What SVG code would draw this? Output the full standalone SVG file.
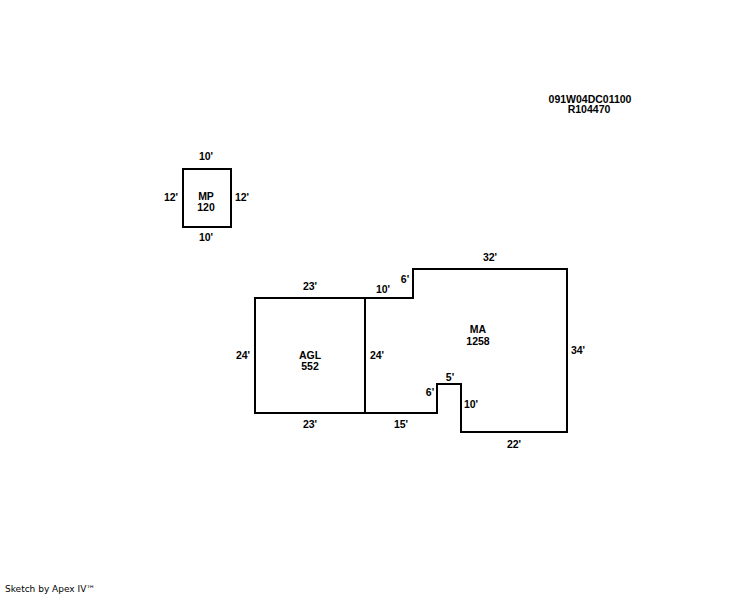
<svg xmlns="http://www.w3.org/2000/svg" width="744" height="595" viewBox="0 0 744 595">
<style>
text{font-family:"Liberation Sans",Arial,sans-serif;font-size:10.5px;font-weight:bold;fill:#000;text-anchor:middle}
.s{fill:none;stroke:#000;stroke-width:2;stroke-linejoin:miter;stroke-linecap:square}
.c{font-weight:normal;font-size:9px;text-anchor:start;font-family:"DejaVu Sans",sans-serif}
</style>
<rect width="744" height="595" fill="#fff"/>
<g id="header"><text x="590" y="102.500">091W04DC01100</text><text x="589" y="113">R104470</text></g>
<g id="MP">
<rect class="s" x="183" y="169" width="48" height="58"/>
<text x="206" y="200">MP</text><text x="206" y="211">120</text>
<text x="206" y="160">10'</text><text x="206" y="241">10'</text><text x="171" y="201">12'</text><text x="242" y="201">12'</text>
</g>
<g id="AGL">
<rect class="s" x="255" y="298" width="110" height="115"/>
<text x="310" y="359">AGL</text><text x="310" y="370">552</text>
<text x="310" y="290">23'</text><text x="310" y="428">23'</text><text x="243" y="359">24'</text>
</g>
<g id="MA">
<path class="s" d="M365 298H413V269H567V432H461V384H437V413H365Z"/>
<text x="478" y="333">MA</text><text x="478" y="345">1258</text>
<text x="377" y="359">24'</text><text x="383" y="293">10'</text><text x="405" y="283">6'</text><text x="490" y="261">32'</text><text x="578" y="354">34'</text><text x="514" y="448">22'</text><text x="471" y="408">10'</text><text x="450" y="381">5'</text><text x="430" y="396">6'</text><text x="401" y="428">15'</text>
</g>
<g id="credit"><text class="c" x="5" y="592">Sketch by Apex IV™</text></g>
</svg>
